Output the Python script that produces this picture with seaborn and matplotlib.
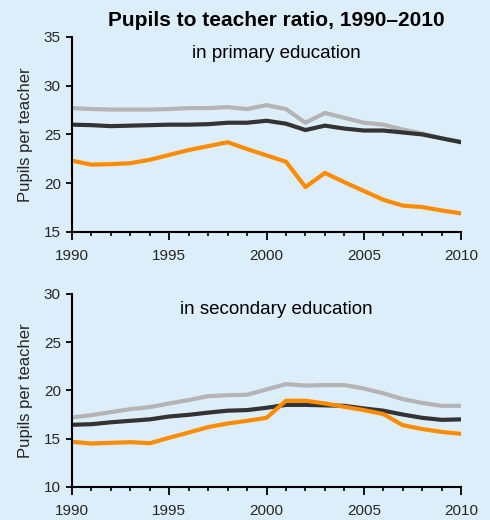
import numpy as np
import pandas as pd
import seaborn as sns
import matplotlib.pyplot as plt
from matplotlib.ticker import MultipleLocator

years = list(range(1990, 2011))

# primary education
prim_light = [27.7, 27.6, 27.55, 27.55, 27.55, 27.6, 27.7, 27.7, 27.8, 27.6, 28.0,
              27.6, 26.2, 27.2, 26.7, 26.2, 26.0, 25.5, 25.1, 24.6, 24.25]
prim_dark = [26.0, 25.95, 25.85, 25.9, 25.95, 26.0, 26.0, 26.05, 26.2, 26.2, 26.4,
             26.1, 25.45, 25.9, 25.6, 25.4, 25.4, 25.2, 25.0, 24.6, 24.2]
prim_orange = [22.3, 21.9, 21.95, 22.05, 22.4, 22.9, 23.4, 23.8, 24.2, 23.5, 22.85,
               22.2, 19.6, 21.05, 20.1, 19.2, 18.3, 17.7, 17.55, 17.2, 16.9]

# secondary education
sec_light = [17.2, 17.44, 17.75, 18.06, 18.27, 18.65, 19.0, 19.4, 19.5, 19.55, 20.1,
             20.65, 20.5, 20.55, 20.55, 20.2, 19.7, 19.1, 18.7, 18.4, 18.4]
sec_dark = [16.44, 16.5, 16.7, 16.85, 17.0, 17.3, 17.47, 17.7, 17.9, 17.96, 18.2,
            18.5, 18.5, 18.45, 18.4, 18.13, 17.9, 17.5, 17.16, 16.95, 17.0]
sec_orange = [14.67, 14.5, 14.57, 14.64, 14.53, 15.1, 15.64, 16.2, 16.57, 16.85, 17.16,
              18.93, 18.93, 18.65, 18.3, 17.96, 17.55, 16.4, 16.0, 15.7, 15.5]

series_colors = {"light": "#b4b4b4", "dark": "#333333", "orange": "#ff8c00"}
bg = "#dceefa"

sns.set_theme(style="ticks")
plt.rcParams['font.family'] = ['Liberation Sans', 'DejaVu Sans']

fig = plt.figure(figsize=(4.9, 5.2), dpi=100, facecolor=bg)
ax1 = fig.add_axes([0.147, 0.554, 0.794, 0.375])
ax2 = fig.add_axes([0.147, 0.0635, 0.794, 0.3715])


def draw_panel(ax, light, dark, orange, ylim, subtitle, sub_y):
    df = pd.DataFrame({"year": years, "light": light, "dark": dark, "orange": orange})
    long = df.melt(id_vars="year", var_name="series", value_name="ratio")
    sns.lineplot(data=long, x="year", y="ratio", hue="series", palette=series_colors,
                 hue_order=["light", "dark", "orange"], linewidth=3, ax=ax, legend=False)
    ax.set_facecolor(bg)
    ax.set_xlim(1990, 2010)
    ax.set_ylim(*ylim)
    ax.xaxis.set_major_locator(MultipleLocator(5))
    ax.xaxis.set_minor_locator(MultipleLocator(1))
    ax.yaxis.set_major_locator(MultipleLocator(5))
    ax.tick_params(axis="x", which="major", length=6, width=1.3, color="black",
                   labelsize=11, pad=6)
    ax.tick_params(axis="x", which="minor", length=3, width=1.2, color="black")
    ax.tick_params(axis="y", which="major", length=4, width=1.3, color="black",
                   labelsize=11, pad=4)
    for s in ["top", "right"]:
        ax.spines[s].set_visible(False)
    for s in ["left", "bottom"]:
        ax.spines[s].set_color("black")
        ax.spines[s].set_linewidth(1.5)
    ax.set_xlabel("")
    ax.set_ylabel("Pupils per teacher", fontsize=12, labelpad=8)
    ax.text(0.524, sub_y, subtitle, transform=ax.transAxes, ha="center", va="center",
            fontsize=13.5, color="black")


draw_panel(ax1, prim_light, prim_dark, prim_orange, (15, 35), "in primary education", 0.913)
draw_panel(ax2, sec_light, sec_dark, sec_orange, (10, 30), "in secondary education", 0.917)

fig.text(0.563, 0.961, "Pupils to teacher ratio, 1990\u20132010", ha="center", va="center",
         fontsize=15, fontweight="bold", color="black")

fig.savefig("out.png", dpi=100, facecolor=bg)
